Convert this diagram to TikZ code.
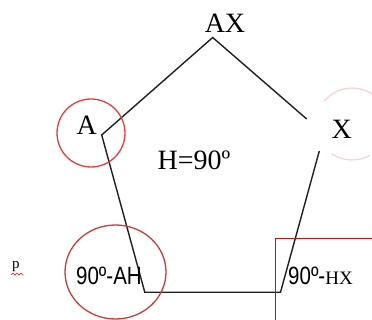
\documentclass[tikz,border=0pt]{standalone}
\usepackage{fontspec}
\setmainfont{Liberation Serif}
\newfontfamily\narrowsans[FakeStretch=0.82]{Liberation Sans}
\definecolor{redA}{RGB}{232,60,60}
\definecolor{redE}{RGB}{204,58,58}
\definecolor{redR}{RGB}{200,16,16}
\definecolor{faintred}{RGB}{248,205,205}
\begin{document}
\begin{tikzpicture}[x=1pt,y=-1pt,
  edge/.style={line width=1.4pt, draw=black!88, line join=miter},
  bigserif/.style={inner sep=0pt, anchor=base, font=\fontsize{28}{30}\selectfont},
  sanslabel/.style={inner sep=0pt, anchor=base west, font=\narrowsans\fontsize{25}{27}\selectfont},
  circA/.style={draw=redA, line width=1.3pt},
  circE/.style={draw=redE, line width=1.3pt},
  boxR/.style={draw=redR, line width=1.3pt},
  faint/.style={draw=faintred, line width=1.1pt}]
\useasboundingbox (0,0) rectangle (372,320);

% pentagon vertices
\coordinate (pAX) at (212.7,37.5);
\coordinate (pA)  at (101.7,135);
\coordinate (pBL) at (144.8,292.3);
\coordinate (pBR) at (280.5,292.3);
\coordinate (g1)  at (306.7,119);
\coordinate (g2)  at (319.3,151);
\draw[edge] (g2) -- (pBR) -- (pBL) -- (pA) -- (pAX) -- (g1);

% labels
\node[bigserif] (lAX) at (225,32.7) {AX};
\node[bigserif] (lA)  at (86.7,135) {A};
\node[bigserif] (lX)  at (341.7,138.3) {X};
\node[bigserif] (lH)  at (194,170) {H=90º};
\node[sanslabel] (lAH) at (76,285) {90º-AH};
\node[sanslabel] (lHX) at (288,285) {90º-{\fontspec{Liberation Serif}\fontsize{19}{20}\selectfont HX}};
\node[inner sep=0pt, anchor=base, font=\fontsize{15}{16}\selectfont] (lp) at (16,269) {p};

% red marks
\coordinate (cA) at (91,133);
\draw[circA] (cA) circle[radius=34pt];
\coordinate (cE) at (115.5,272);
\draw[circE] (cE) circle[x radius=50.5pt, y radius=47pt];
\coordinate (r1) at (380,238.3);
\coordinate (r2) at (275.3,238.3);
\coordinate (r3) at (275.3,330);
\draw[boxR] (r1) -- (r2) -- (r3);

% faint circle near X
\coordinate (ft) at (324.4,100.9);
\coordinate (fb) at (331.4,153.5);
\draw[faint] (ft) arc[start angle=140, end angle=20, radius=36pt];
\draw[faint] (fb) arc[start angle=235, end angle=300, radius=36pt];

% spell-check squiggle under p
\coordinate (s0) at (11,275);
\draw[red, line width=0.6pt] (s0) -- ++(2,-2) -- ++(2,2) -- ++(2,-2) -- ++(2,2) -- ++(2,-2) -- ++(2,2);
\end{tikzpicture}
\end{document}
